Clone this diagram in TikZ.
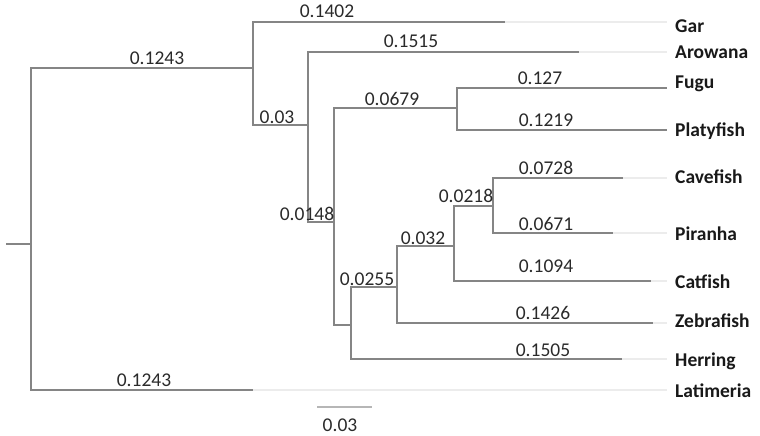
\documentclass[tikz,border=0pt]{standalone}
\usepackage{fontspec}
\setmainfont{Carlito}
\usepackage{tikz}
\usepackage{xcolor}
\definecolor{branch}{HTML}{858585}
\definecolor{faint}{HTML}{ECECEC}
\definecolor{lentext}{HTML}{2A2A2A}

\begin{document}
\begin{tikzpicture}[x=1pt,y=-1pt,every node/.style={inner sep=0pt},
  br/.style={draw=branch,line width=1.3pt},
  ext/.style={draw=faint,line width=1.2pt},
  len/.style={text=lentext,font=\fontsize{19.5}{21}\selectfont},
  taxon/.style={anchor=west,text=black!90,font=\fontsize{19.5}{21}\selectfont\bfseries}]
\useasboundingbox (0,0) rectangle (760,436);
% internal nodes (x of node, y of incoming branch)
\coordinate (stub) at (6,244);
\coordinate (root) at (31,244);
\coordinate (nA) at (253,68);
\coordinate (nB) at (308,125);
\coordinate (nC) at (334,222);
\coordinate (nD) at (457,108);
\coordinate (nH) at (351,325);
\coordinate (nG) at (397,287);
\coordinate (nE) at (454,246);
\coordinate (nF) at (493,206);
\coordinate (tipx) at (667,0);
% tips (end of the dark part of each branch)
\coordinate (gar) at (505,22);
\coordinate (arowana) at (579,52);
\coordinate (fugu) at (667,88);
\coordinate (platyfish) at (667,130);
\coordinate (cavefish) at (623,178);
\coordinate (piranha) at (613,233);
\coordinate (catfish) at (651,281);
\coordinate (zebrafish) at (653,323);
\coordinate (herring) at (622,359);
\coordinate (latimeria) at (253,390);

\foreach \t in {gar,arowana,cavefish,piranha,catfish,zebrafish,herring,latimeria}
  \draw[ext] (\t) -- (\t -| tipx);

\draw[br] (stub) -- (root);
\draw[br] (root) |- (nA);
\draw[br] (root) |- (latimeria);
\draw[br] (nA) |- (gar);
\draw[br] (nA) |- (nB);
\draw[br] (nB) |- (arowana);
\draw[br] (nB) |- (nC);
\draw[br] (nC) |- (nD);
\draw[br] (nC) |- (nH);
\draw[br] (nD) |- (fugu);
\draw[br] (nD) |- (platyfish);
\draw[br] (nH) |- (nG);
\draw[br] (nH) |- (herring);
\draw[br] (nG) |- (nE);
\draw[br] (nG) |- (zebrafish);
\draw[br] (nE) |- (nF);
\draw[br] (nE) |- (catfish);
\draw[br] (nF) |- (cavefish);
\draw[br] (nF) |- (piranha);

% branch lengths
\node[len] (lA) at (157,58) {0.1243};
\node[len] (lLat) at (144,380) {0.1243};
\node[len] (lGar) at (327,11) {0.1402};
\node[len] (lB) at (277,117) {0.03};
\node[len] (lAro) at (411,41) {0.1515};
\node[len] (lC) at (307,214) {0.0148};
\node[len] (lD) at (392,99) {0.0679};
\node[len] (lFugu) at (540,78) {0.127};
\node[len] (lPlaty) at (546,120) {0.1219};
\node[len] (lG) at (367,279) {0.0255};
\node[len] (lE) at (423,238) {0.032};
\node[len] (lF) at (466,196) {0.0218};
\node[len] (lCave) at (546,168) {0.0728};
\node[len] (lPira) at (546,224) {0.0671};
\node[len] (lCat) at (546,266) {0.1094};
\node[len] (lZeb) at (543,313) {0.1426};
\node[len] (lHer) at (543,350) {0.1505};

% taxa
\node[taxon] (tGar) at (675,26) {Gar};
\node[taxon] (tAro) at (675,52) {Arowana};
\node[taxon] (tFugu) at (675,84) {Fugu};
\node[taxon] (tPlaty) at (675,131) {Platyfish};
\node[taxon] (tCave) at (675,177) {Cavefish};
\node[taxon] (tPira) at (675,234) {Piranha};
\node[taxon] (tCat) at (675,282) {Catfish};
\node[taxon] (tZeb) at (675,321) {Zebrafish};
\node[taxon] (tHer) at (675,361) {Herring};
\node[taxon] (tLat) at (675,391) {Latimeria};

% scale bar
\coordinate (sL) at (317,407);
\coordinate (sR) at (372,407);
\draw[draw=branch!60,line width=1.2pt] (sL) -- (sR);
\node[len] (sLab) at (340,425) {0.03};
\end{tikzpicture}
\end{document}
